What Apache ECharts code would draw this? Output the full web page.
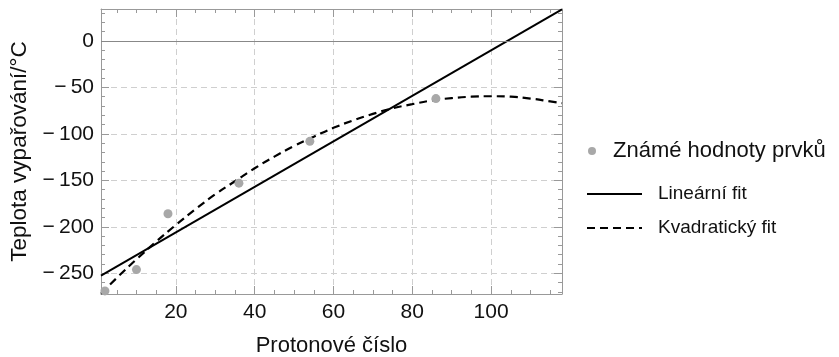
<!DOCTYPE html>
<html>
<head>
<meta charset="utf-8">
<script src="https://cdn.jsdelivr.net/npm/echarts@6/dist/echarts.min.js"></script>
<style>
  html, body { margin: 0; padding: 0; background: #fff; }
  #chart { width: 839px; height: 357px; }
</style>
</head>
<body>
<div id="chart"></div>
<script>
// known noble-gas boiling points
const protonNumbers = [2, 10, 18, 36, 54, 86];
const boilingPoints = [-269, -246, -186, -153, -108, -62];

// linear fit, read at the two ends of the plot
const linX = [1, 118];
const linY = [-252.5, 34];

// quadratic fit
const quadX = [1, 5, 10, 15, 20, 25, 30, 35, 40, 45, 50, 55, 60, 65, 70, 75, 80, 85, 90, 95, 100, 105, 110, 115, 118];
const quadY = [-272, -255, -235, -216, -198, -181, -165, -151, -137, -124.5, -113, -103, -93.5, -85.5, -78.5, -72.5, -68, -64, -61.5, -60, -59.5, -60, -62, -65, -67];

// ticks
const xMajor = [20, 40, 60, 80, 100];
const xMinor = [5, 10, 15, 25, 30, 35, 45, 50, 55, 65, 70, 75, 85, 90, 95, 105, 110, 115];
const yMajor = [-250, -200, -150, -100, -50, 0];
const yMinor = [-270, -260, -240, -230, -220, -210, -190, -180, -170, -160, -140, -130, -120, -110,
                -90, -80, -70, -60, -40, -30, -20, -10, 10, 20, 30];

const xMin = 1, xMax = 118, yMin = -272.3, yMax = 34.4;

const font = 'Liberation Sans, Arial, sans-serif';
const frameColor = '#999';
const minus = v => String(v).replace('-', '\u2212\u2009');

const chart = echarts.init(document.getElementById('chart'));

function xAxisDef(position, ticks, len, main) {
    return {
        type: 'value', position: position, min: xMin, max: xMax,
        axisLine: { show: main, onZero: false, lineStyle: { color: frameColor, width: 1 } },
        axisTick: { show: true, inside: true, length: len, customValues: ticks,
                    lineStyle: { color: frameColor, width: 1 } },
        axisLabel: { show: false },
        splitLine: { show: false }
    };
}
function yAxisDef(position, ticks, len, main) {
    return {
        type: 'value', position: position, min: yMin, max: yMax,
        axisLine: { show: main, onZero: false, lineStyle: { color: frameColor, width: 1 } },
        axisTick: { show: true, inside: true, length: len, customValues: ticks,
                    lineStyle: { color: frameColor, width: 1 } },
        axisLabel: { show: false },
        splitLine: { show: false }
    };
}

const xBottom = xAxisDef('bottom', xMajor, 8, true);
xBottom.axisLabel = { show: true, customValues: xMajor, margin: 8, color: '#111',
                      fontSize: 21, fontFamily: font };
xBottom.splitLine = { show: true, lineStyle: { color: '#cfcfcf', type: [6, 4], width: 1 } };
xBottom.name = 'Protonové číslo';
xBottom.nameLocation = 'middle';
xBottom.nameGap = 41;
xBottom.nameTextStyle = { fontSize: 22, fontFamily: font, color: '#111' };

const yLeft = yAxisDef('left', yMajor, 8, true);
yLeft.axisLabel = { show: true, customValues: yMajor, margin: 7, color: '#111',
                    fontSize: 21, fontFamily: font, formatter: minus };
yLeft.splitLine = { show: true, lineStyle: { color: '#cfcfcf', type: [6, 4], width: 1 } };
yLeft.name = 'Teplota vypařování/°C';
yLeft.nameLocation = 'middle';
yLeft.nameGap = 66;
yLeft.nameTextStyle = { fontSize: 22.5, fontFamily: font, color: '#111' };

chart.setOption({
    animation: false,
    grid: { left: 101, right: 277, top: 9, bottom: 63, containLabel: false, outerBoundsMode: 'none' },
    xAxis: [
        xBottom,
        xAxisDef('bottom', xMinor, 4, false),
        xAxisDef('top', xMajor, 8, true),
        xAxisDef('top', xMinor, 4, false)
    ],
    yAxis: [
        yLeft,
        yAxisDef('left', yMinor, 4, false),
        yAxisDef('right', yMajor, 8, true),
        yAxisDef('right', yMinor, 4, false)
    ],
    legend: [
        {
            orient: 'vertical', left: 583, top: 135,
            data: ['Známé hodnoty prvků'],
            itemWidth: 32, itemHeight: 8,
            textStyle: { fontSize: 22, fontFamily: font, color: '#111' }
        },
        {
            orient: 'vertical', left: 581, top: 179,
            data: ['Lineární fit', 'Kvadratický fit'],
            itemWidth: 55, itemHeight: 2, itemGap: 14,
            textStyle: { fontSize: 19, lineHeight: 20, fontFamily: font, color: '#111',
                         padding: [0, 0, 0, 11] }
        }
    ],
    series: [
        {
            name: 'Lineární fit',
            type: 'line',
            symbol: 'none',
            data: linX.map((x, i) => [x, linY[i]]),
            lineStyle: { color: '#000', width: 2 },
            itemStyle: { color: '#000' },
            markLine: {
                silent: true, symbol: ['none', 'none'], label: { show: false },
                lineStyle: { color: '#888', type: 'solid', width: 1 },
                data: [{ yAxis: 0 }]
            },
            z: 3
        },
        {
            name: 'Kvadratický fit',
            type: 'line',
            symbol: 'none',
            smooth: true,
            data: quadX.map((x, i) => [x, quadY[i]]),
            lineStyle: { color: '#000', width: 2.2, type: [8, 5] },
            itemStyle: { color: '#000' },
            z: 3
        },
        {
            name: 'Známé hodnoty prvků',
            type: 'scatter',
            symbolSize: 9,
            data: protonNumbers.map((x, i) => [x, boilingPoints[i]]),
            itemStyle: { color: '#a8a8a8', opacity: 1 },
            z: 4
        }
    ]
});
</script>
</body>
</html>
